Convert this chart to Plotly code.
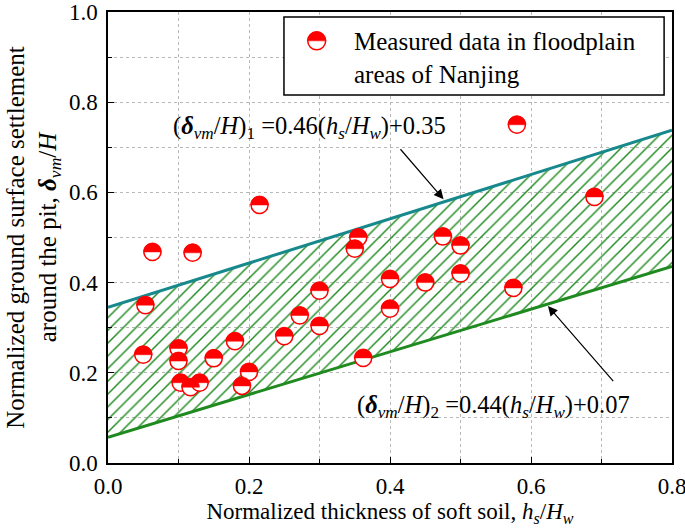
import plotly.graph_objects as go

# ---- data ----
meas_x = [0.58, 0.215, 0.69, 0.355, 0.35, 0.475, 0.50, 0.063, 0.12,
          0.053, 0.05, 0.10, 0.10, 0.103, 0.117, 0.13, 0.15, 0.18, 0.19,
          0.20, 0.25, 0.272, 0.30, 0.30, 0.362, 0.40, 0.40, 0.45, 0.50, 0.575]
meas_y = [0.750, 0.572, 0.590, 0.500, 0.475, 0.502, 0.482, 0.468, 0.466,
          0.350, 0.240, 0.254, 0.226, 0.178, 0.168, 0.178, 0.232, 0.270, 0.171,
          0.202, 0.281, 0.327, 0.382, 0.304, 0.233, 0.408, 0.342, 0.400, 0.420, 0.388]

bound_x = [0.0, 0.8]
upper_y = [0.345, 0.738]
lower_y = [0.057, 0.436]

x_ticks = [0.0, 0.2, 0.4, 0.6, 0.8]
y_ticks = [0.0, 0.2, 0.4, 0.6, 0.8, 1.0]

FONT = "Liberation Serif"
RED = "#ff0000"
TEAL = "#17888b"
GREEN = "#1f8a1f"

fig = go.Figure()

fig.add_trace(go.Scatter(x=bound_x, y=lower_y, mode="lines",
                         line=dict(color=GREEN, width=3), showlegend=False))
fig.add_trace(go.Scatter(x=bound_x, y=upper_y, mode="lines",
                         line=dict(color=TEAL, width=3), fill="tonexty",
                         fillcolor="rgba(0,0,0,0)",
                         fillpattern=dict(shape="/", fgcolor=GREEN, bgcolor="rgba(255,255,255,0)",
                                          fgopacity=1, size=9, solidity=0.16),
                         showlegend=False))
fig.add_trace(go.Scatter(x=meas_x, y=meas_y, mode="markers",
                         marker=dict(symbol="circle", size=17, color="white",
                                     line=dict(color=RED, width=1.5)),
                         showlegend=False))

R = 9.0
K = 0.5523 * R
half = (f"M {-R} 0 C {-R} {K}, {-K} {R}, 0 {R} C {K} {R}, {R} {K}, {R} 0 Z")

shapes = []
for xv, yv in zip(meas_x, meas_y):
    shapes.append(dict(type="path", xref="x", yref="y", xsizemode="pixel", ysizemode="pixel",
                       xanchor=xv, yanchor=yv, path=half,
                       fillcolor=RED, line=dict(color=RED, width=0.5), layer="above"))

# legend box
shapes.append(dict(type="rect", xref="paper", yref="paper", x0=0.312, x1=0.986, y0=0.816, y1=0.989,
                   line=dict(color="black", width=1.5), fillcolor="white", layer="above"))
full = (f"M {-R} 0 C {-R} {K}, {-K} {R}, 0 {R} C {K} {R}, {R} {K}, {R} 0 "
        f"C {R} {-K}, {K} {-R}, 0 {-R} C {-K} {-R}, {-R} {-K}, {-R} 0 Z")
shapes.append(dict(type="path", xref="paper", yref="paper", xsizemode="pixel", ysizemode="pixel",
                   xanchor=0.370, yanchor=0.936, path=full, fillcolor="white",
                   line=dict(color=RED, width=1.5), layer="above"))
shapes.append(dict(type="path", xref="paper", yref="paper", xsizemode="pixel", ysizemode="pixel",
                   xanchor=0.370, yanchor=0.936, path=half, fillcolor=RED,
                   line=dict(color=RED, width=0.5), layer="above"))

annotations = [
    dict(xref="paper", yref="paper", x=0.432, y=0.899, xanchor="left", yanchor="middle",
         text="Measured data in floodplain<br>areas of Nanjing", showarrow=False, align="left",
         font=dict(family=FONT, size=25, color="black")),
    dict(xref="x", yref="y", x=0.090, y=0.745, xanchor="left", yanchor="middle", showarrow=False,
         text="(<i><b>δ</b><sub>vm</sub></i>/<i>H</i>)<sub>1</sub> =0.46(<i>h<sub>s</sub></i>/<i>H<sub>w</sub></i>)+0.35",
         font=dict(family=FONT, size=24.5, color="black")),
    dict(xref="x", yref="y", x=0.350, y=0.125, xanchor="left", yanchor="middle", showarrow=False,
         text="(<i><b>δ</b><sub>vm</sub></i>/<i>H</i>)<sub>2</sub> =0.44(<i>h<sub>s</sub></i>/<i>H<sub>w</sub></i>)+0.07",
         font=dict(family=FONT, size=24.5, color="black")),
    dict(xref="x", yref="y", axref="x", ayref="y", x=0.476, y=0.585, ax=0.413, ay=0.699,
         text="", showarrow=True, arrowhead=2, arrowsize=1.6, arrowwidth=1.2, arrowcolor="black"),
    dict(xref="x", yref="y", axref="x", ayref="y", x=0.624, y=0.348, ax=0.7185, ay=0.178,
         text="", showarrow=True, arrowhead=2, arrowsize=1.6, arrowwidth=1.2, arrowcolor="black"),
]

axis_common = dict(showline=True, linecolor="black", linewidth=1.5, mirror=True,
                   ticks="inside", ticklen=6, tickwidth=1.2, tickcolor="black",
                   showgrid=True, gridcolor="#b8b8b8", gridwidth=1, griddash="dot",
                   zeroline=False, automargin=False, ticklabeloverflow="allow",
                   tickfont=dict(family=FONT, size=23, color="black"),
                   minor=dict(dtick=0.1, ticks="inside", ticklen=4, tickcolor="black",
                              showgrid=True, gridcolor="#b8b8b8", griddash="dot", gridwidth=1))

fig.update_layout(
    width=685, height=532,
    margin=dict(l=108, r=13, t=12, b=69),
    paper_bgcolor="white", plot_bgcolor="white",
    shapes=shapes, annotations=annotations,
    xaxis=dict(range=[0, 0.8], tickvals=x_ticks, ticktext=[f"{v:.1f}" for v in x_ticks],
               ticklabelstandoff=2,
               title=dict(text="Normalized thickness of soft soil, <i>h<sub>s</sub></i>/<i>H<sub>w</sub></i>",
                          font=dict(family=FONT, size=23, color="black"), standoff=5),
               **axis_common),
    yaxis=dict(range=[0, 1.0], tickvals=y_ticks, ticktext=[f"{v:.1f}" for v in y_ticks],
               ticklabelstandoff=4,
               title=dict(text="Normalized ground surface settlement<br>around the pit, <i><b>δ</b><sub>vm</sub></i>/<i>H</i>",
                          font=dict(family=FONT, size=25, color="black"), standoff=5),
               **axis_common),
)

fig.write_html("out.html", config={"displayModeBar": False},
               post_script="document.body.style.margin='0';document.body.style.overflow='hidden';")
